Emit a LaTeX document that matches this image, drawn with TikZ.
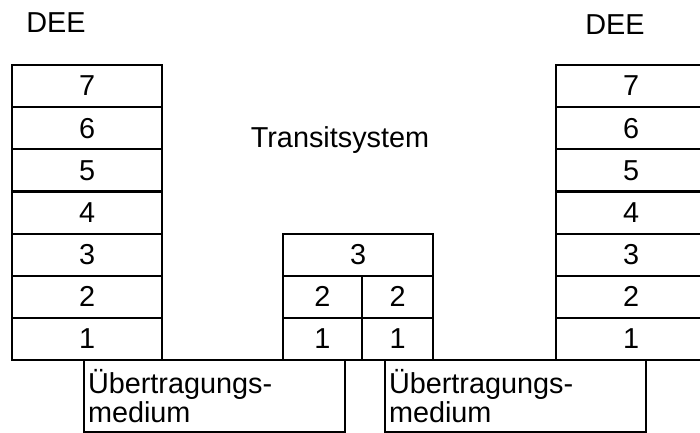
\documentclass[tikz,border=0pt]{standalone}
\usepackage{fontspec}
\setmainfont{Liberation Sans}
\usetikzlibrary{positioning}

\begin{document}
\begin{tikzpicture}[x=0.025cm,y=-0.025cm,
every node/.style={font=\fontsize{20.5}{20.5}\selectfont},
layer/.style={draw,line width=1.5pt,minimum width=3.75cm,minimum height=1.0536cm,inner sep=0pt,outer sep=0pt},
halfl/.style={layer,minimum width=1.975cm},
halfr/.style={layer,minimum width=1.775cm},
medium/.style={draw,line width=1.5pt,minimum width=6.525cm,minimum height=1.8cm,text width=6.325cm,align=left,inner xsep=0.1cm,inner ysep=0pt,outer sep=0pt,anchor=north west},
tag/.style={inner sep=0pt,anchor=base}]
\path[use as bounding box,clip] (0,0) rectangle (700,433);
% linke DEE
\node [tag] (deeL) at (56,33) {DEE};
\node [layer,anchor=north west] (l7) at (12,65) {7};
\node [layer,below=0pt of l7] (l6) {6};
\node [layer,below=0pt of l6] (l5) {5};
\node [layer,below=0pt of l5] (l4) {4};
\node [layer,below=0pt of l4] (l3) {3};
\node [layer,below=0pt of l3] (l2) {2};
\node [layer,below=0pt of l2] (l1) {1};
% Transitsystem
\node [tag] (trans) at (340,148) {Transitsystem};
\node [layer,anchor=north west] (t3) at (283,233.6) {3};
\node [halfl,anchor=north west] (t2a) at (t3.south west) {2};
\node [halfr,anchor=north east] (t2b) at (t3.south east) {2};
\node [halfl,below=0pt of t2a] (t1a) {1};
\node [halfr,below=0pt of t2b] (t1b) {1};
% rechte DEE
\node [tag] (deeR) at (615,35) {DEE};
\node [layer,anchor=north west] (r7) at (556,65) {7};
\node [layer,below=0pt of r7] (r6) {6};
\node [layer,below=0pt of r6] (r5) {5};
\node [layer,below=0pt of r5] (r4) {4};
\node [layer,below=0pt of r4] (r3) {3};
\node [layer,below=0pt of r3] (r2) {2};
\node [layer,below=0pt of r2] (r1) {1};
% Medien
\node [medium] (medL) at (84,360) {Übertragungs-\\medium};
\node [medium] (medR) at (385,360) {Übertragungs-\\medium};
\end{tikzpicture}
\end{document}
